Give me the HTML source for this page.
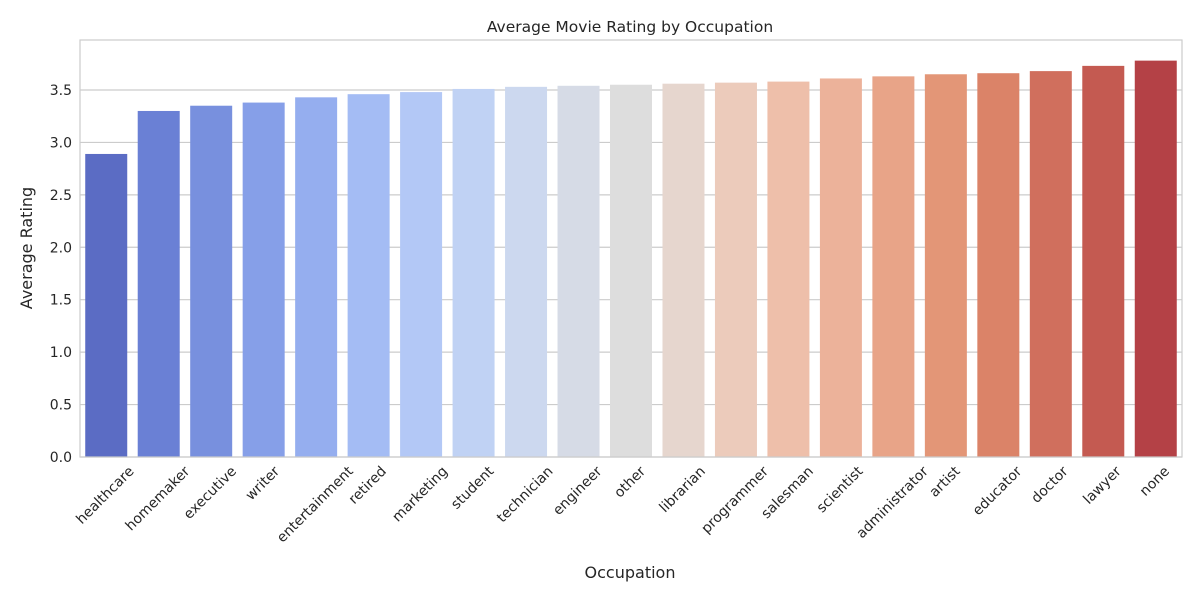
<!DOCTYPE html>
<html><head><meta charset="utf-8"><style>
body{margin:0;background:#fff;font-family:"DejaVu Sans","Liberation Sans",sans-serif;}
svg{display:block}
</style></head><body>
<svg id="chart" width="1200" height="600" font-family="DejaVu Sans, Liberation Sans, sans-serif">
<text x="630" y="32" text-anchor="middle" font-size="15.5" fill="#262626">Average Movie Rating by Occupation</text>
<text x="630" y="578" text-anchor="middle" font-size="16" fill="#262626">Occupation</text>
<text transform="translate(32,248) rotate(-90)" text-anchor="middle" font-size="16" fill="#262626">Average Rating</text>
<g id="grid"></g><g id="bars"></g><g id="xt"></g><g id="yt"></g>
<rect x="80" y="40" width="1102" height="417" fill="none" stroke="#cccccc" stroke-width="1.2"/>
</svg>
<script>
const categories=["healthcare","homemaker","executive","writer","entertainment","retired","marketing","student","technician","engineer","other","librarian","programmer","salesman","scientist","administrator","artist","educator","doctor","lawyer","none"];
const values=[2.89,3.30,3.35,3.38,3.43,3.46,3.48,3.51,3.53,3.54,3.55,3.56,3.57,3.58,3.61,3.63,3.65,3.66,3.68,3.73,3.78];
const yTicks=["0.0","0.5","1.0","1.5","2.0","2.5","3.0","3.5"];
const colors=["#5b6cc4","#6a80d5","#7890de","#869fe8","#95aeef","#a4bcf4","#b3c8f6","#c0d2f4","#ccd8ef","#d6dbe6","#dddddd","#e6d6ce","#eccbbb","#eebfaa","#ecb29a","#e8a488","#e39677","#db8368","#d06f5d","#c45a51","#b44146"];
const NS="http://www.w3.org/2000/svg";
const L=80,R=1182,B=457,pxPerUnit=104.86;
const band=(R-L)/categories.length,bw=42;
const y=v=>B-v*pxPerUnit;
const xc=i=>L+band*(i+0.5);
function mk(t,a,p){const e=document.createElementNS(NS,t);for(const k in a)e.setAttribute(k,a[k]);document.getElementById(p).appendChild(e);return e;}
yTicks.forEach(t=>{const v=parseFloat(t);
 const l=mk("line",{x1:L,x2:R,y1:y(v),y2:y(v),stroke:"#cccccc","stroke-width":1.2},"grid");
 
 
 const tx=mk("text",{x:L-8,y:y(v)+5,"text-anchor":"end","font-size":"14",fill:"#262626"},"yt");
 tx.textContent=t;
 
 
});
categories.forEach((c,i)=>{
 const r=mk("rect",{x:xc(i)-bw/2,y:y(values[i]),width:bw,height:B-y(values[i]),fill:colors[i]},"bars");
 
 
 const t=mk("text",{"text-anchor":"end","font-size":"14",fill:"#262626"},"xt");
 t.textContent=c;
 const w=t.getComputedTextLength();
 t.setAttribute("transform",`translate(${xc(i)+w*0.354+2},${B+15}) rotate(-45)`);
 
 
});
</script>
</body></html>
